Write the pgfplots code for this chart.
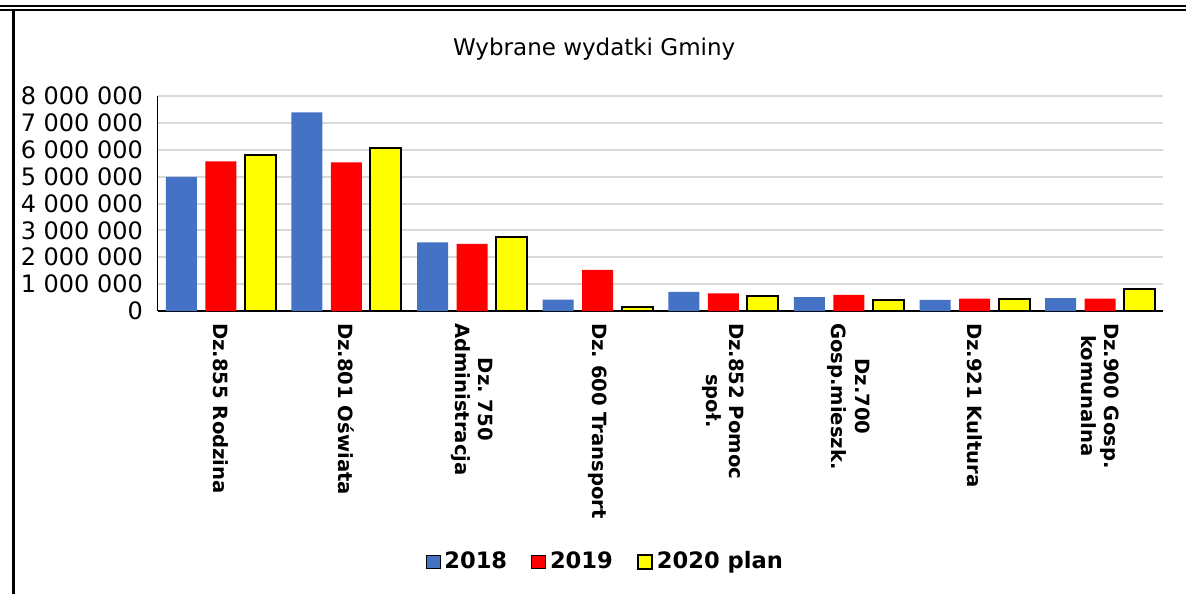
\documentclass[border=0pt]{standalone}
\usepackage{fontspec}
\setmainfont{DejaVu Sans}
\usepackage{pgfplots}
\pgfplotsset{compat=1.18}
\definecolor{c18}{HTML}{4472C4}
\definecolor{c19}{HTML}{FF0000}
\definecolor{c20}{HTML}{FFFF00}
\definecolor{gridc}{HTML}{D9D9D9}
\frenchspacing

\begin{document}
\begin{tikzpicture}[x=1pt,y=1pt]
\path[use as bounding box] (0,0) rectangle (593,297);
% page frame
\draw[line width=1pt] (0,294) -- (593,294);
\draw[line width=1pt] (0,292) -- (593,292);
\draw[line width=1.5pt] (6.8,292) -- (6.8,0);

\begin{axis}[
    at={(79pt,141.5pt)}, anchor=south west,
    scale only axis,
    width=502.5pt, height=107.5pt,
    ybar=4.25pt, bar width=15.5pt,
    xmin=-0.5, xmax=7.5,
    ymin=0, ymax=8000000,
    axis x line*=bottom, axis y line*=left,
    x axis line style={black, line width=1pt},
    y axis line style={black, line width=0.5pt},
    major tick length=0pt,
    ymajorgrids, grid style={gridc, line width=1pt},
    scaled y ticks=false,
    ytick={0,1000000,2000000,3000000,4000000,5000000,6000000,7000000,8000000},
    yticklabels={0,1 000 000,2 000 000,3 000 000,4 000 000,5 000 000,6 000 000,7 000 000,8 000 000},
    yticklabel style={font=\fontsize{12}{13}\selectfont, xshift=-4pt},
    xtick={0,...,7},
    xticklabels={Dz.855 Rodzina, Dz.801 Oświata, {Dz. 750\\Administracja}, Dz. 600 Transport, {Dz.852 Pomoc\\społ.}, {Dz.700\\Gosp.mieszk.}, Dz.921 Kultura, {Dz.900 Gosp.\\komunalna}},
    xticklabel style={yshift=-2.5pt, rotate=-90, anchor=west, align=center, font=\bfseries\fontsize{9.8}{11.8}\selectfont},
    title={Wybrane wydatki Gminy},
    title style={at={(0.434,1)}, anchor=center, yshift=17.5pt, font=\fontsize{11.5}{13}\selectfont},
    legend columns=3,
    legend style={at={(0.446,-1.167)}, anchor=center, draw=none, font=\bfseries\fontsize{11.3}{13}\selectfont,
        /tikz/every even column/.append style={column sep=10pt}},
    legend image code/.code={\draw[#1] (0pt,-3.3pt) rectangle (7pt,3.3pt);},
]
\addplot[fill=c18, draw=none] coordinates {
    (0,4990000) (1,7390000) (2,2550000) (3,420000)
    (4,710000) (5,520000) (6,410000) (7,480000)
};
\addplot[fill=c19, draw=none] coordinates {
    (0,5570000) (1,5530000) (2,2500000) (3,1530000)
    (4,660000) (5,600000) (6,460000) (7,460000)
};
\addplot[fill=c20, draw=black, line width=1pt] coordinates {
    (0,5810000) (1,6060000) (2,2750000) (3,160000)
    (4,570000) (5,420000) (6,430000) (7,810000)
};
\legend{2018, 2019, 2020 plan}
\end{axis}
\end{tikzpicture}
\end{document}
